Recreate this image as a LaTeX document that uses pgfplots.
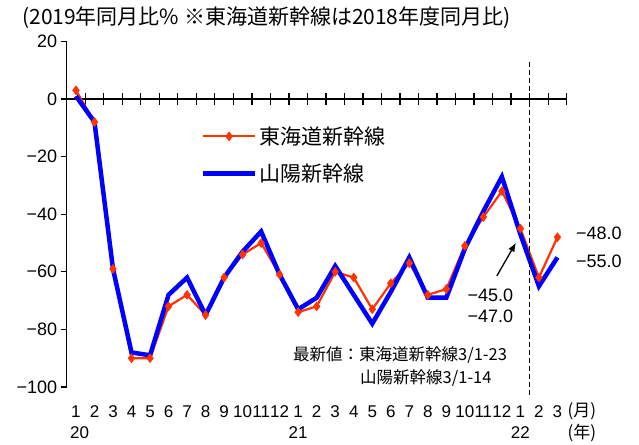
\documentclass[border=0pt]{standalone}
\usepackage{fontspec}
\setmainfont{Liberation Sans}
\newfontfamily\jp{Noto Sans CJK JP}
\usepackage{pgfplots}
\pgfplotsset{compat=1.18}
\usetikzlibrary{arrows.meta}
\definecolor{tokaido}{RGB}{255,51,0}
\definecolor{sanyo}{RGB}{0,0,255}
\newcommand{\fs}[1]{\fontsize{#1}{#1}\selectfont}

\begin{document}
\begin{tikzpicture}
\path[use as bounding box] (-66.7pt,-57pt) rectangle (572.3pt,387pt);
\begin{axis}[
    at={(0pt,0pt)}, anchor=south west,
    width=500pt, height=345.6pt, scale only axis,
    xmin=0.5, xmax=27.5, ymin=-100, ymax=20,
    axis x line*=middle, axis y line*=left,
    axis line style={line width=1.3pt, black},
    tick style={black, line width=1.3pt},
    tick align=outside,
    major tick length=6pt,
    minor tick length=12pt,
    ytick={-100,-80,...,20},
    yticklabels={−100,−80,−60,−40,−20,0,20},
    yticklabel style={font=\fs{18}},
    xtick={1,...,27},
    xticklabels={1,2,3,4,5,6,7,8,9,10,11,12,1,2,3,4,5,6,7,8,9,10,11,12,1,2,3},
    xticklabel style={font=\fs{17}, anchor=center, yshift=-307pt},
    major x tick style={draw=none},
    minor xtick={1.5,2.5,...,27.5},
    minor x tick style={yshift=6pt},
    clip=false,
    legend cell align=left,
    legend style={draw=none, fill=none, at={(0.262,0.765)}, anchor=north west,
                  font=\jp\fs{21}, row sep=14pt},
    legend image code/.code={\draw[mark repeat=2, mark phase=2, #1]
        plot coordinates {(0pt,0pt) (26pt,0pt) (52pt,0pt)};},
]
    % Tokaido Shinkansen (vs. same month of FY2018)
    \addplot[color=tokaido, line width=2.2pt, mark=diamond*, mark size=4.5pt,
             mark options={solid, line width=0.5pt}]
        coordinates {
            (1,3) (2,-8) (3,-59) (4,-90) (5,-90) (6,-72) (7,-68) (8,-75)
            (9,-62) (10,-54) (11,-50) (12,-61)
            (13,-74) (14,-72) (15,-60) (16,-62) (17,-73) (18,-64) (19,-57)
            (20,-68) (21,-66) (22,-51) (23,-41) (24,-32)
            (25,-45) (26,-62) (27,-48)
        };
    \addlegendentry{東海道新幹線}

    % Sanyo Shinkansen
    \addplot[color=sanyo, line width=4.5pt, no markers]
        coordinates {
            (1,1) (2,-8) (3,-59) (4,-88) (5,-89) (6,-68) (7,-62) (8,-75)
            (9,-62) (10,-53) (11,-46) (12,-61)
            (13,-73) (14,-69) (15,-58) (16,-68) (17,-78) (18,-67) (19,-55)
            (20,-69) (21,-69) (22,-52) (23,-39) (24,-27)
            (25,-47) (26,-65) (27,-55)
        };
    \addlegendentry{山陽新幹線}

    \draw[black, line width=1.2pt, dash pattern=on 5pt off 3pt]
        (axis cs:25.5,13) -- (axis cs:25.5,-102.7);
    \draw[-{Latex[length=9pt,width=7pt]}, line width=1.3pt]
        (axis cs:23.73,-61.4) -- (axis cs:24.76,-49.9);

    \node[anchor=west, inner sep=0pt, font=\fs{18}] at (axis cs:28.0,-46.8) {−48.0};
    \node[anchor=west, inner sep=0pt, font=\fs{18}] at (axis cs:28.0,-56.2) {−55.0};
    \node[inner sep=0pt, font=\fs{18}] at (axis cs:23.38,-68.0) {−45.0};
    \node[inner sep=0pt, font=\fs{18}] at (axis cs:23.38,-75.5) {−47.0};

    \node[anchor=west, inner sep=0pt, font=\jp\fs{16.5}] at (axis cs:12.72,-88.8)
        {最新値：東海道新幹線3/1-23};
    \node[anchor=west, inner sep=0pt, font=\jp\fs{16.5}] at (axis cs:16.34,-96.8)
        {山陽新幹線3/1-14};

    \node[font=\fs{17}, yshift=-46pt] at (axis cs:1.2,-100) {20};
    \node[font=\fs{17}, yshift=-46pt] at (axis cs:13,-100) {21};
    \node[font=\fs{17}, yshift=-46pt] at (axis cs:25,-100) {22};
    \node[font=\jp\fs{17}, yshift=-24pt] at (axis cs:28.32,-100) {(月)};
    \node[font=\jp\fs{17}, yshift=-46pt] at (axis cs:28.32,-100) {(年)};

    \node[anchor=west, inner sep=0pt, font=\jp\fs{21}] at (axis cs:-1.91,28.1)
        {(2019年同月比\% ※東海道新幹線は2018年度同月比)};
\end{axis}
\end{tikzpicture}
\end{document}
